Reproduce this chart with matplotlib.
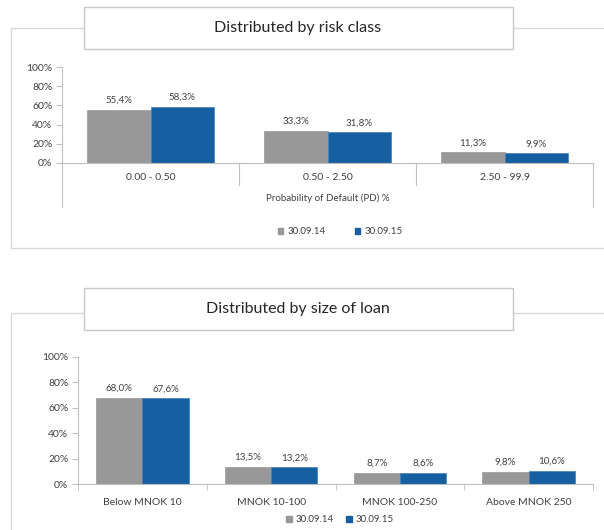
import numpy as np
import matplotlib.pyplot as plt
from matplotlib.patches import Rectangle
from matplotlib.lines import Line2D

plt.rcParams['font.family'] = ['Lato', 'DejaVu Sans']

# data
risk_classes = ['0.00 - 0.50', '0.50 - 2.50', '2.50 - 99.9']
risk_2014 = [55.4, 33.3, 11.3]
risk_2015 = [58.3, 31.8, 9.9]

loan_sizes = ['Below MNOK 10', 'MNOK 10-100', 'MNOK 100-250', 'Above MNOK 250']
size_2014 = [68.0, 13.5, 8.7, 9.8]
size_2015 = [67.6, 13.2, 8.6, 10.6]

series_names = ['30.09.14', '30.09.15']
grey = '#989898'
blue = '#165FA0'
axis_col = '#BFBFBF'
text_col = '#404040'

W, H = 604, 530
fig = plt.figure(figsize=(W / 100, H / 100), dpi=100)


def px_box(x0, y0, x1, y1):
    # pixel box (top-left origin) -> figure fraction rect
    return [x0 / W, 1 - y1 / H, (x1 - x0) / W, (y1 - y0) / H]


def panel(x0, y0, x1, y1, title, ty0, ty1):
    fig.add_artist(Rectangle((x0 / W, 1 - y1 / H), (x1 - x0) / W, (y1 - y0) / H,
                             transform=fig.transFigure, fill=False,
                             edgecolor='#D9D9D9', lw=1))
    fig.add_artist(Rectangle((84 / W, 1 - ty1 / H), (513 - 84) / W, (ty1 - ty0) / H,
                             transform=fig.transFigure, facecolor='white',
                             edgecolor='#C8C8C8', lw=1))
    fig.text(298 / W, 1 - (ty0 + ty1) / 2 / H, title, ha='center', va='center',
             fontsize=11.5, color='#262626')


def bars(ax, cats, a, b):
    x = np.arange(len(cats))
    w = 0.36
    ax.bar(x - w / 2, a, w, color=grey, edgecolor=grey, lw=0.5)
    ax.bar(x + w / 2, b, w, color=blue, edgecolor='#3F7FBF', lw=0.5)
    for xi, v in zip(x - w / 2, a):
        ax.annotate(f'{v:.1f}%'.replace('.', ','), (xi, v), xytext=(0, 5),
                    textcoords='offset points', ha='center', fontsize=7, color=text_col)
    for xi, v in zip(x + w / 2, b):
        ax.annotate(f'{v:.1f}%'.replace('.', ','), (xi, v), xytext=(0, 5),
                    textcoords='offset points', ha='center', fontsize=7, color=text_col)
    ax.set_xlim(-0.5, len(cats) - 0.5)
    ax.set_ylim(0, 100)
    ax.set_yticks(range(0, 101, 20))
    ax.set_yticklabels([f'{t}%' for t in range(0, 101, 20)])
    for s in ['top', 'right']:
        ax.spines[s].set_visible(False)
    for s in ['left', 'bottom']:
        ax.spines[s].set_color(axis_col)
    ax.tick_params(axis='y', colors=axis_col, labelcolor=text_col, labelsize=7.5,
                   length=4, pad=3)
    ax.patch.set_alpha(0)
    return x


def legend(ycenter, spacing):
    handles = [Rectangle((0, 0), 1, 1, color=grey), Rectangle((0, 0), 1, 1, color=blue)]
    fig.legend(handles, series_names, loc='center', bbox_to_anchor=(340 / W, 1 - ycenter / H),
               ncol=2, frameon=False, fontsize=7, handlelength=0.6, handleheight=0.6,
               columnspacing=spacing, handletextpad=0.4, labelcolor=text_col)


# ---- top chart: risk class
panel(11, 28, 640, 248, 'Distributed by risk class', 7, 49)
ax1 = fig.add_axes(px_box(62, 67, 593, 163))
x1 = bars(ax1, risk_classes, risk_2014, risk_2015)
ax1.set_xticks([])
tr = ax1.get_xaxis_transform()
hgt = 96
for xb in [0.5, 1.5]:
    ax1.add_line(Line2D([xb, xb], [0, -22 / hgt], transform=tr, color=axis_col, lw=0.8, clip_on=False))
for xb in [-0.5, 2.5]:
    ax1.add_line(Line2D([xb, xb], [0, -44 / hgt], transform=tr, color=axis_col, lw=0.8, clip_on=False))
for xi, lab in zip(x1, risk_classes):
    ax1.text(xi, -15 / hgt, lab, transform=tr, ha='center', va='center', fontsize=7.5, color=text_col)
ax1.text(1, -35 / hgt, 'Probability of Default (PD) %', transform=tr, ha='center', va='center',
         fontsize=7, color=text_col)
legend(232, 3.0)

# ---- bottom chart: size of loan
panel(11, 313, 640, 560, 'Distributed by size of loan', 288, 330)
ax2 = fig.add_axes(px_box(78, 357, 593, 484))
x2 = bars(ax2, loan_sizes, size_2014, size_2015)
ax2.set_xticks(np.arange(-0.5, len(loan_sizes)), minor=True)
ax2.set_xticks(x2)
ax2.set_xticklabels(loan_sizes)
ax2.tick_params(axis='x', which='major', length=0, labelsize=7.5, labelcolor=text_col, pad=10)
ax2.tick_params(axis='x', which='minor', length=4, color=axis_col)
legend(520, 1.2)

fig.savefig('out.png', dpi=100)
